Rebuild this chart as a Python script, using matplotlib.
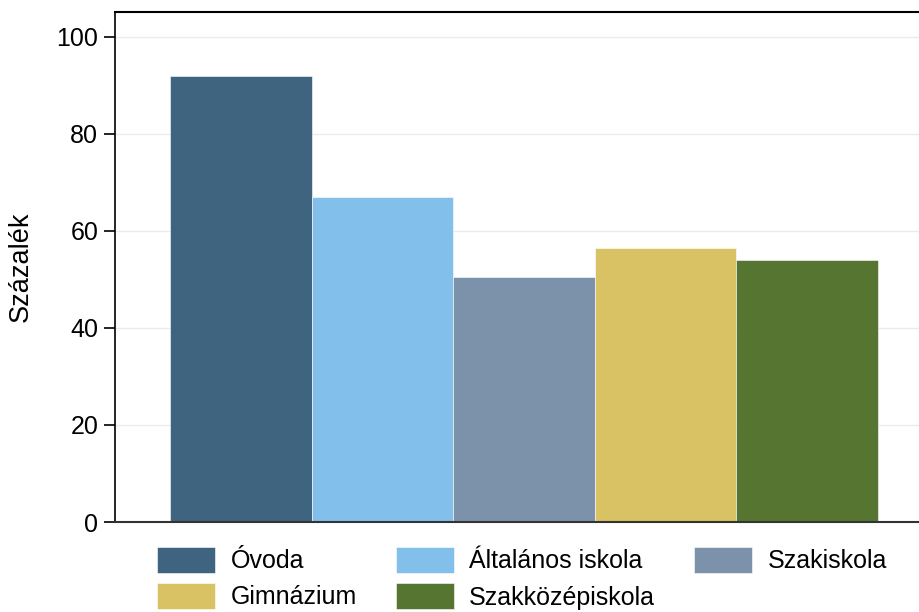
import numpy as np
import matplotlib.pyplot as plt

plt.rcParams['font.family'] = ['Liberation Sans', 'DejaVu Sans']

# data
categories = ["Óvoda", "Általános iskola", "Szakiskola", "Gimnázium", "Szakközépiskola"]
values = [91.9, 67.0, 50.5, 56.5, 54.1]
colors = ["#3e6480", "#82bfea", "#7b92aa", "#d9c264", "#557530"]
yticks = [0, 20, 40, 60, 80, 100]

fig = plt.figure(figsize=(9.2, 6.12), dpi=100)
# axes runs past the right edge like the original
ax = fig.add_axes([115 / 920, 90 / 612, 818 / 920, 510 / 612])

x = np.arange(len(categories))
bars = []
for i, (cat, val, col) in enumerate(zip(categories, values, colors)):
    b = ax.bar(x[i], val, width=1.0, color=col, edgecolor="white", linewidth=0.4, label=cat, zorder=2)
    bars.append(b)

ax.set_xlim(-0.5 - 0.388, len(categories) - 0.5 + 0.388)
ax.set_ylim(0, 105.15)
ax.set_yticks(yticks)
ax.set_xticks([])
ax.tick_params(axis="y", labelsize=18, length=8, width=1.2, direction="out", pad=4)
ax.yaxis.grid(True, color="#ebebeb", linewidth=1, zorder=0)
ax.set_axisbelow(True)

ax.spines["right"].set_visible(False)
ax.spines["top"].set_linewidth(1.5)
ax.spines["left"].set_linewidth(1.2)
ax.spines["bottom"].set_linewidth(1.5)
ax.spines["bottom"].set_color("#333333")

ax.set_ylabel("Százalék", fontsize=19.5, labelpad=16)

# legend in row order: matplotlib fills columns first
order = [0, 3, 1, 4, 2]
handles = [bars[i] for i in order]
labels = [categories[i] for i in order]
fig.legend(handles, labels, ncol=3, loc="upper left", bbox_to_anchor=(157 / 920, 1 - 547 / 612),
           frameon=False, fontsize=18, handlelength=2.32, handleheight=1.2,
           handletextpad=0.62, columnspacing=1.56, labelspacing=0.4, borderaxespad=0, borderpad=0)

fig.savefig("out.png", dpi=100)
